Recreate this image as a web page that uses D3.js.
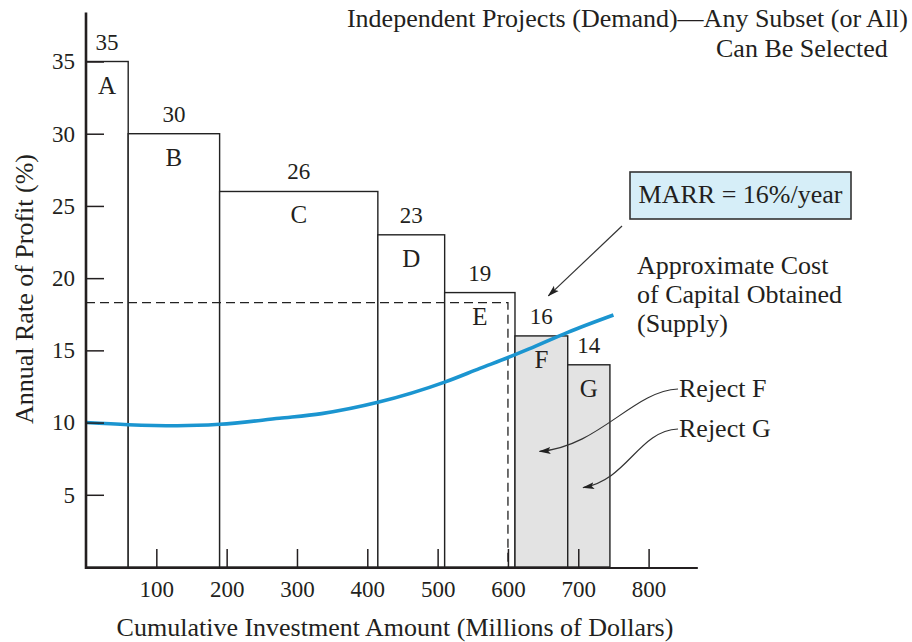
<!DOCTYPE html>
<html>
<head>
<meta charset="utf-8">
<script src="https://cdn.jsdelivr.net/npm/d3@7/dist/d3.min.js"></script>
<style>
  html, body { margin: 0; padding: 0; background: #fff; }
  svg { display: block; }
  text { font-family: "Liberation Serif", "Times New Roman", serif; fill: #231f20; }
</style>
</head>
<body>
<svg id="chart" width="912" height="642"></svg>
<script>
// Projects ranked by rate of profit, stacked along cumulative investment
const projects = ["A", "B", "C", "D", "E", "F", "G"];
const cumulativeInvestment = [60, 190, 415, 510, 610, 685, 745];   // $ millions
const rateOfProfit = [35, 30, 26, 23, 19, 16, 14];                  // % per year
const rejected = [false, false, false, false, false, true, true];

// Approximate cost of capital obtained (supply curve)
const supplyInvestment = [0, 60, 130, 190, 275, 335, 415, 510, 560, 605, 630, 685, 750];
const supplyRate = [10.0, 9.85, 9.78, 9.88, 10.3, 10.62, 11.4, 12.8, 13.75, 14.6, 15.1, 16.25, 17.45];

// Budget cut-off guide
const guideInvestment = 600;
const guideRate = 18.3;

const marr = 16;

const xTicks = [100, 200, 300, 400, 500, 600, 700, 800];
const yTicks = [5, 10, 15, 20, 25, 30, 35];

const svg = d3.select("#chart");

const x = d3.scaleLinear().domain([0, 800]).range([86, 648.6]);
const y = d3.scaleLinear().domain([0, 35]).range([567, 61.5]);

const ink = "#231f20";

const defs = svg.append("defs");
defs.append("marker")
  .attr("id", "arrowhead")
  .attr("markerUnits", "userSpaceOnUse")
  .attr("viewBox", "0 0 12 8")
  .attr("refX", 11).attr("refY", 4)
  .attr("markerWidth", 12).attr("markerHeight", 8)
  .attr("orient", "auto")
  .append("path")
  .attr("d", "M0,0.5 L12,4 L0,7.5 L2.5,4 Z")
  .attr("fill", "#222");

// ---- bars ----
const bars = projects.map((p, i) => ({
  name: p,
  start: i === 0 ? 0 : cumulativeInvestment[i - 1],
  end: cumulativeInvestment[i],
  rate: rateOfProfit[i],
  rejected: rejected[i]
}));

svg.append("g").selectAll("rect")
  .data(bars)
  .join("rect")
  .attr("x", d => x(d.start))
  .attr("y", d => y(d.rate))
  .attr("width", d => x(d.end) - x(d.start))
  .attr("height", d => y(0) - y(d.rate))
  .attr("fill", d => d.rejected ? "#e3e3e3" : "#fff")
  .attr("stroke", "#222")
  .attr("stroke-width", 1.4);

// ---- dashed cut-off guide ----
svg.append("path")
  .attr("d", `M${x(0)},${y(guideRate)} H${x(guideInvestment)} V${y(0)}`)
  .attr("fill", "none")
  .attr("stroke", "#222")
  .attr("stroke-width", 1.3)
  .attr("stroke-dasharray", "9,5");

// ---- supply curve ----
const supplyLine = d3.line()
  .x(d => x(d[0]))
  .y(d => y(d[1]))
  .curve(d3.curveMonotoneX);

svg.append("path")
  .datum(supplyInvestment.map((v, i) => [v, supplyRate[i]]))
  .attr("d", supplyLine)
  .attr("fill", "none")
  .attr("stroke", "#1b95d0")
  .attr("stroke-width", 3.6)
  .attr("stroke-linecap", "butt");

// ---- bar labels ----
const fmt = d3.format(".0f");
svg.append("g").selectAll("text")
  .data(bars)
  .join("text")
  .attr("x", d => (x(d.start) + x(d.end)) / 2)
  .attr("y", d => y(d.rate) - 12)
  .attr("text-anchor", "middle")
  .attr("font-size", 23)
  .text(d => fmt(d.rate));

svg.append("g").selectAll("text")
  .data(bars)
  .join("text")
  .attr("x", d => (x(d.start) + x(d.end)) / 2)
  .attr("y", d => y(d.rate) + 32)
  .attr("text-anchor", "middle")
  .attr("font-size", 25)
  .text(d => d.name);

// ---- axes ----
const xAxis = d3.axisBottom(x).tickValues(xTicks).tickSize(-18).tickPadding(14).tickFormat(d3.format("d"));
const gx = svg.append("g").attr("transform", `translate(0,${y(0)})`).call(xAxis);
gx.select(".domain").remove();
gx.selectAll(".tick line").attr("stroke", ink).attr("stroke-width", 1.5);
gx.selectAll(".tick text").attr("font-size", 23).attr("font-family", "Liberation Serif, serif").attr("fill", ink);

const yAxis = d3.axisLeft(y).tickValues(yTicks).tickSize(-18).tickPadding(11).tickFormat(d3.format("d"));
const gy = svg.append("g").attr("transform", `translate(${x(0)},0)`).call(yAxis);
gy.select(".domain").remove();
gy.selectAll(".tick line").attr("stroke", ink).attr("stroke-width", 1.5);
gy.selectAll(".tick text").attr("font-size", 23).attr("font-family", "Liberation Serif, serif").attr("fill", ink);

// axis lines
svg.append("line")
  .attr("x1", x(0)).attr("x2", x(870))
  .attr("y1", y(0) + 1).attr("y2", y(0) + 1)
  .attr("stroke", ink).attr("stroke-width", 2);
svg.append("line")
  .attr("x1", x(0)).attr("x2", x(0))
  .attr("y1", y(0) + 2).attr("y2", y(38.4))
  .attr("stroke", ink).attr("stroke-width", 2.6);

// axis titles
svg.append("text")
  .attr("x", 395).attr("y", 636)
  .attr("text-anchor", "middle")
  .attr("font-size", 26)
  .text("Cumulative Investment Amount (Millions of Dollars)");

svg.append("text")
  .attr("transform", "translate(33,289) rotate(-90)")
  .attr("text-anchor", "middle")
  .attr("font-size", 26)
  .text("Annual Rate of Profit (%)");

// ---- heading ----
svg.append("text")
  .attr("x", 908).attr("y", 27)
  .attr("text-anchor", "end")
  .attr("font-size", 26)
  .text("Independent Projects (Demand)\u2014Any Subset (or All)");
svg.append("text")
  .attr("x", 716).attr("y", 57)
  .attr("font-size", 26)
  .text("Can Be Selected");

// ---- MARR callout ----
const box = { x: 630, y: 172, w: 221, h: 47 };
svg.append("rect")
  .attr("x", box.x).attr("y", box.y)
  .attr("width", box.w).attr("height", box.h)
  .attr("fill", "#d6eef8")
  .attr("stroke", "#333")
  .attr("stroke-width", 1.6);
svg.append("text")
  .attr("x", box.x + box.w / 2).attr("y", box.y + 31)
  .attr("text-anchor", "middle")
  .attr("font-size", 26)
  .text(`MARR = ${marr}%/year`);

const fBar = bars[5];
const marrTip = [(x(fBar.start) + x(fBar.end)) / 2 + 7, y(fBar.rate) - 40];
svg.append("line")
  .attr("x1", box.x - 8).attr("y1", box.y + box.h + 7)
  .attr("x2", marrTip[0]).attr("y2", marrTip[1])
  .attr("stroke", "#333").attr("stroke-width", 1.2)
  .attr("marker-end", "url(#arrowhead)");

// ---- supply annotation ----
["Approximate Cost", "of Capital Obtained", "(Supply)"].forEach((t, i) => {
  svg.append("text")
    .attr("x", 637).attr("y", 273.5 + i * 29)
    .attr("font-size", 26)
    .text(t);
});

// ---- reject annotations ----
const rejects = [
  { label: "Reject F", ty: 397, tip: [x(645), y(8.0)], c1: [-45, 2], c2: [60, -5] },
  { label: "Reject G", ty: 437, tip: [x(707), y(5.5)], c1: [-40, 2], c2: [45, -8] }
];
rejects.forEach(r => {
  const sx = 678, sy = r.ty - 8;
  svg.append("path")
    .attr("d", `M${sx},${sy} C${sx + r.c1[0]},${sy + r.c1[1]} ${r.tip[0] + r.c2[0]},${r.tip[1] + r.c2[1]} ${r.tip[0]},${r.tip[1]}`)
    .attr("fill", "none")
    .attr("stroke", "#333")
    .attr("stroke-width", 1.2)
    .attr("marker-end", "url(#arrowhead)");
  svg.append("text")
    .attr("x", 679).attr("y", r.ty)
    .attr("font-size", 26)
    .text(r.label);
});
</script>
</body>
</html>
